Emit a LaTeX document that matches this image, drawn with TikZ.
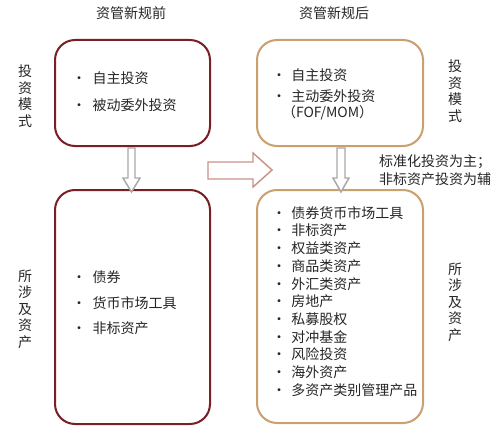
\documentclass[tikz,border=0pt]{standalone}
\usepackage{fontspec}
\setmainfont{Noto Sans CJK SC}
\begin{document}
\begin{tikzpicture}[x=0.75pt,y=-0.75pt,
  every node/.style={inner sep=0pt, outer sep=0pt, font=\fontsize{10.5}{12}\selectfont, text=black!85},
  oldbox/.style={draw=oldred, line width=1.5pt, rounded corners=15pt, fill=white},
  newbox/.style={draw=newtan, line width=1.5pt, rounded corners=15pt, fill=white},
  downarrow/.style={draw=arrowgray, line width=1.1pt, fill=white, line join=miter},
  rightarrow/.style={draw=arrowrose, line width=1.1pt, fill=white, line join=miter},
  vlabel/.style={align=center, font=\fontsize{10.5}{12.4}\selectfont},
  item/.style={anchor=west},
  title/.style={anchor=center}]
\definecolor{oldred}{HTML}{7A1F24}
\definecolor{newtan}{HTML}{C9A06E}
\definecolor{arrowgray}{HTML}{A8A8A8}
\definecolor{arrowrose}{HTML}{C99488}
\useasboundingbox[fill=white] (0,0) rectangle (500,435);

% titles
\node[title] (t1) at (131,13) {资管新规前};
\node[title] (t2) at (334,13) {资管新规后};

% boxes
\node[oldbox, minimum width=116.25pt, minimum height=79.5pt] (lt) at (132.5,93) {};
\node[oldbox, minimum width=116.25pt, minimum height=175.5pt] (lb) at (132.5,307) {};
\node[newbox, minimum width=124.5pt, minimum height=79.5pt] (rt) at (340,93) {};
\node[newbox, minimum width=124.5pt, minimum height=174.75pt] (rb) at (340,306.5) {};

% block arrows
\draw[downarrow] (128,148) -- (135,148) -- (135,178) -- (140,178) -- (131.5,192) -- (123,178) -- (128,178) -- cycle;
\draw[downarrow] (337,148) -- (345,148) -- (345,178) -- (349,178) -- (341,192) -- (333,178) -- (337,178) -- cycle;
\draw[rightarrow] (208,162) -- (253,162) -- (253,153) -- (272,170) -- (253,187) -- (253,179) -- (208,179) -- cycle;

% side labels
\node[vlabel] (l1) at (25,96) {投\\资\\模\\式};
\node[vlabel] (l2) at (25,309) {所\\涉\\及\\资\\产};
\node[vlabel] (r1) at (455,91) {投\\资\\模\\式};
\node[vlabel] (r2) at (455,302) {所\\涉\\及\\资\\产};

% note
\node[anchor=west] (n1) at (379,162) {标准化投资为主；};
\node[anchor=west] (n2) at (379,179) {非标资产投资为辅};

% left top items
\node[item] (a1) at (72,78) {•\hspace{5pt}自主投资};
\node[item] (a2) at (72,105) {•\hspace{5pt}被动委外投资};

% left bottom items
\node[item] (b1) at (72,277) {•\hspace{5pt}债券};
\node[item] (b2) at (72,303) {•\hspace{5pt}货币市场工具};
\node[item] (b3) at (72,328) {•\hspace{5pt}非标资产};

% right top items
\node[item] (c1) at (272,75) {•\hspace{4pt}自主投资};
\node[item] (c2) at (272,96) {•\hspace{4pt}主动委外投资};
\node[item] (c3) at (282,113) {（FOF/MOM）};

% right bottom items
\foreach \t [count=\i from 0] in {债券货币市场工具,非标资产,权益类资产,商品类资产,外汇类资产,房地产,私募股权,对冲基金,风险投资,海外资产,多资产类别管理产品}{
  \node[item] (d\i) at (272,{213+17.7*\i}) {•\hspace{4pt}\t};
}
\end{tikzpicture}
\end{document}
